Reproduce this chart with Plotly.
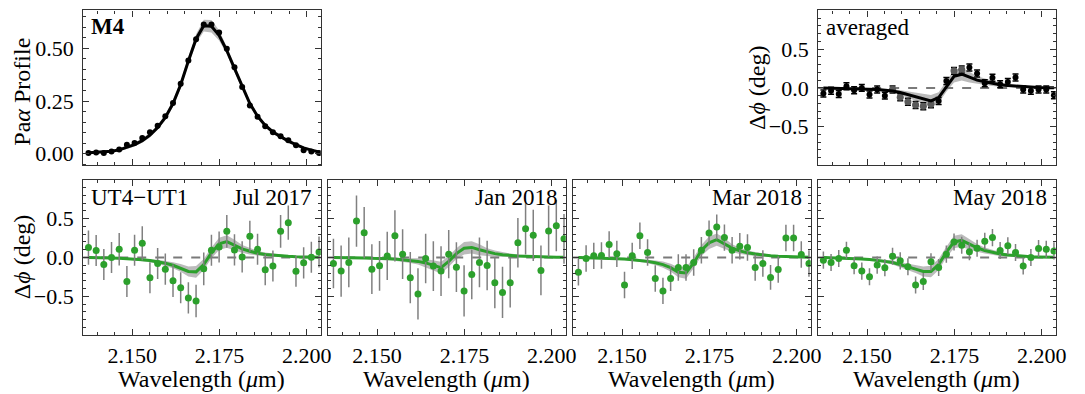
import numpy as np
import plotly.graph_objects as go

# ---------------- data ----------------
wavelength = [2.1375, 2.1397, 2.1419, 2.1441, 2.1463, 2.1485, 2.1507, 2.1529, 2.1551, 2.1573,
              2.1595, 2.1617, 2.1639, 2.1661, 2.1683, 2.1705, 2.1727, 2.1749, 2.1771, 2.1793,
              2.1815, 2.1837, 2.1859, 2.1881, 2.1903, 2.1925, 2.1947, 2.1969, 2.1991, 2.2013, 2.2035]

profile_data = [0.003, 0.006, 0.003, 0.011, 0.020, 0.043, 0.051, 0.075, 0.102, 0.133,
                0.178, 0.241, 0.332, 0.443, 0.543, 0.614, 0.614, 0.575, 0.498, 0.411,
                0.317, 0.229, 0.175, 0.130, 0.102, 0.083, 0.064, 0.040, 0.016, 0.011, 0.003]
profile_model = [0.004, 0.006, 0.008, 0.012, 0.018, 0.030, 0.043, 0.062, 0.088, 0.124,
                 0.172, 0.238, 0.328, 0.440, 0.545, 0.608, 0.605, 0.562, 0.490, 0.405,
                 0.318, 0.238, 0.178, 0.134, 0.103, 0.080, 0.060, 0.043, 0.028, 0.017, 0.008]
profile_band = [0.006, 0.006, 0.006, 0.006, 0.007, 0.008, 0.009, 0.010, 0.011, 0.012,
                0.013, 0.014, 0.016, 0.018, 0.022, 0.028, 0.030, 0.024, 0.018, 0.015,
                0.013, 0.012, 0.011, 0.010, 0.009, 0.008, 0.007, 0.007, 0.006, 0.006, 0.006]

avg_phase = [-0.073, -0.038, -0.080, 0.022, -0.030, 0.000, -0.086, -0.020, -0.100, -0.020,
             -0.120, -0.180, -0.220, -0.236, -0.210, -0.170, 0.090, 0.220, 0.237, 0.263,
             0.186, 0.060, 0.130, 0.048, 0.077, 0.134, -0.020, -0.038, -0.020, -0.020, -0.094]
avg_err = [0.045, 0.045, 0.045, 0.045, 0.045, 0.045, 0.045, 0.045, 0.045, 0.045,
           0.045, 0.045, 0.045, 0.045, 0.045, 0.045, 0.045, 0.045, 0.045, 0.045,
           0.045, 0.045, 0.045, 0.045, 0.045, 0.045, 0.045, 0.045, 0.045, 0.045, 0.045]
avg_model = [0.000, -0.002, -0.004, -0.006, -0.008, -0.010, -0.015, -0.020, -0.030, -0.040,
             -0.060, -0.085, -0.110, -0.140, -0.168, -0.125, 0.020, 0.150, 0.177, 0.140,
             0.100, 0.080, 0.055, 0.040, 0.030, 0.022, 0.015, 0.010, 0.006, 0.003, 0.001]
avg_flag_wl = [2.1573, 2.1595, 2.1617, 2.1639, 2.1661, 2.1683, 2.1749, 2.1771]
avg_flag_phase = [-0.020, -0.120, -0.180, -0.220, -0.236, -0.210, 0.220, 0.237]

jul_phase = [0.128, 0.090, -0.090, 0.000, 0.106, -0.310, 0.094, 0.183, -0.260, -0.077,
             -0.150, -0.300, -0.390, -0.520, -0.560, -0.146, 0.094, 0.136, 0.337, 0.098,
             0.008, 0.273, 0.106, -0.159, -0.110, 0.337, 0.449, -0.176, -0.069, 0.004, 0.072]
jul_err = [0.22, 0.20, 0.20, 0.20, 0.21, 0.20, 0.20, 0.22, 0.20, 0.20,
           0.20, 0.21, 0.20, 0.20, 0.21, 0.21, 0.20, 0.20, 0.21, 0.20,
           0.20, 0.20, 0.20, 0.20, 0.20, 0.21, 0.22, 0.20, 0.20, 0.20, 0.20]
jul_model = [0.000, 0.000, -0.005, -0.005, -0.010, -0.015, -0.020, -0.030, -0.040, -0.055,
             -0.075, -0.100, -0.135, -0.180, -0.185, -0.090, 0.060, 0.175, 0.205, 0.160,
             0.110, 0.080, 0.055, 0.040, 0.030, 0.020, 0.015, 0.010, 0.005, 0.003, 0.002]

jan_phase = [-0.077, -0.175, -0.064, 0.470, 0.320, -0.150, -0.107, 0.020, 0.280, 0.043,
             -0.260, -0.470, -0.013, -0.110, -0.175, 0.043, -0.124, -0.430, -0.218, -0.064,
             -0.103, -0.325, -0.450, -0.325, 0.190, 0.370, 0.286, -0.167, 0.340, 0.410, 0.240]
jan_err = [0.32, 0.33, 0.32, 0.33, 0.33, 0.32, 0.32, 0.31, 0.33, 0.32,
           0.33, 0.33, 0.32, 0.32, 0.32, 0.31, 0.32, 0.33, 0.32, 0.32,
           0.32, 0.33, 0.33, 0.32, 0.32, 0.33, 0.33, 0.32, 0.33, 0.33, 0.32]
jan_model = [0.000, 0.000, 0.000, 0.000, -0.005, -0.010, -0.010, -0.015, -0.020, -0.030,
             -0.040, -0.050, -0.070, -0.100, -0.130, -0.050, 0.050, 0.120, 0.130, 0.100,
             0.070, 0.050, 0.035, 0.025, 0.020, 0.015, 0.010, 0.008, 0.005, 0.003, 0.002]

mar_phase = [-0.190, -0.013, 0.021, 0.025, 0.167, 0.047, -0.355, 0.021, 0.280, 0.064,
             -0.270, -0.430, -0.270, -0.128, -0.128, -0.064, 0.094, 0.317, 0.393, 0.256,
             0.094, 0.145, 0.128, -0.130, -0.077, -0.256, -0.154, 0.252, 0.252, 0.038, -0.077]
mar_err = [0.17, 0.17, 0.17, 0.17, 0.17, 0.17, 0.17, 0.17, 0.17, 0.17,
           0.17, 0.17, 0.16, 0.17, 0.17, 0.17, 0.17, 0.16, 0.16, 0.17,
           0.17, 0.17, 0.17, 0.17, 0.17, 0.16, 0.17, 0.17, 0.17, 0.17, 0.17]
mar_model = [0.000, -0.002, -0.004, -0.007, -0.010, -0.015, -0.020, -0.028, -0.038, -0.050,
             -0.068, -0.092, -0.130, -0.190, -0.200, -0.070, 0.090, 0.190, 0.230, 0.180,
             0.120, 0.085, 0.060, 0.045, 0.030, 0.022, 0.015, 0.010, 0.007, 0.004, 0.002]

may_phase = [-0.034, -0.064, -0.013, 0.094, -0.107, -0.175, -0.248, -0.098, -0.132, 0.017,
             -0.043, -0.120, -0.355, -0.310, -0.056, -0.128, 0.043, 0.200, 0.158, 0.073,
             0.120, 0.210, 0.256, 0.090, 0.150, 0.065, -0.110, 0.000, 0.115, 0.107, 0.085]
may_err = [0.11, 0.11, 0.11, 0.11, 0.11, 0.11, 0.11, 0.11, 0.11, 0.11,
           0.11, 0.11, 0.11, 0.11, 0.11, 0.11, 0.11, 0.11, 0.11, 0.11,
           0.11, 0.11, 0.11, 0.11, 0.11, 0.11, 0.11, 0.11, 0.11, 0.11, 0.11]
may_model = [0.000, -0.002, -0.005, -0.008, -0.012, -0.018, -0.025, -0.035, -0.050, -0.065,
             -0.090, -0.120, -0.150, -0.180, -0.180, -0.090, 0.070, 0.200, 0.220, 0.170,
             0.125, 0.090, 0.065, 0.045, 0.032, 0.022, 0.015, 0.010, 0.006, 0.004, 0.002]

phase_band = [0.010, 0.010, 0.010, 0.010, 0.010, 0.015, 0.015, 0.015, 0.020, 0.025,
              0.030, 0.040, 0.050, 0.065, 0.075, 0.070, 0.070, 0.080, 0.080, 0.070,
              0.050, 0.040, 0.030, 0.025, 0.020, 0.015, 0.010, 0.010, 0.010, 0.010, 0.010]

panel_titles = ["Jul 2017", "Jan 2018", "Mar 2018", "May 2018"]
baseline_label = "UT4\u2212UT1"

x_range = [2.136, 2.204]
phase_range = [-1.0, 1.0]
profile_range = [-0.055, 0.68]

# ---------------- figure ----------------
# page body has an 8px margin: figure placed at (8, 8) in the 1085x394 window
OFF = 8
W, H = 1085 - OFF, 394 - OFF
FONT = "Liberation Serif"
GREEN = "#2ca02c"
BAND = "rgba(120,120,120,0.5)"
ERR = "#808080"

cols = [(84, 324), (331.5, 571.5), (579, 819), (826.5, 1066.5)]
top_row = (10.5, 165.7)
bot_row = (180.3, 336)


def PX(px):
    return (px - OFF) / W


def PY(py):
    return 1 - (py - OFF) / H


def xd(a, b):
    return [PX(a), PX(b)]


def yd(top, bottom):
    return [PY(bottom), PY(top)]


fig = go.Figure()


def band(xname, yname, model, half, color=BAND):
    wl = np.array(wavelength)
    m = np.array(model)
    h = np.array(half)
    fig.add_trace(go.Scatter(
        x=np.concatenate([wl, wl[::-1]]), y=np.concatenate([m + h, (m - h)[::-1]]),
        fill="toself", fillcolor=color, line=dict(width=0), mode="lines",
        hoverinfo="skip", showlegend=False, xaxis=xname, yaxis=yname))


def line(xname, yname, model, color, width=3):
    fig.add_trace(go.Scatter(x=wavelength, y=model, mode="lines",
                             line=dict(color=color, width=width),
                             showlegend=False, xaxis=xname, yaxis=yname))


# top-left: profile
band("x", "y", profile_model, profile_band)
line("x", "y", profile_model, "black", 3)
fig.add_trace(go.Scatter(x=wavelength, y=profile_data, mode="markers",
                         marker=dict(color="black", size=6), showlegend=False,
                         xaxis="x", yaxis="y"))

# top-right: averaged
band("x2", "y2", avg_model, phase_band)
fig.add_trace(go.Scatter(x=wavelength, y=avg_phase, mode="markers",
                         marker=dict(color="black", size=6),
                         error_y=dict(type="data", array=avg_err, color="black",
                                      thickness=1.5, width=3),
                         showlegend=False, xaxis="x2", yaxis="y2"))
fig.add_trace(go.Scatter(x=avg_flag_wl, y=avg_flag_phase, mode="markers",
                         marker=dict(color="#5a5a5a", size=7), showlegend=False,
                         xaxis="x2", yaxis="y2"))
line("x2", "y2", avg_model, "black", 3)

# bottom panels
series = [(jul_phase, jul_err, jul_model), (jan_phase, jan_err, jan_model),
          (mar_phase, mar_err, mar_model), (may_phase, may_err, may_model)]
for k, (ph, er, md) in enumerate(series):
    xn, yn = f"x{k + 3}", f"y{k + 3}"
    band(xn, yn, md, phase_band)
    line(xn, yn, md, GREEN, 3)
    fig.add_trace(go.Scatter(x=wavelength, y=ph, mode="markers",
                             marker=dict(color=GREEN, size=7),
                             error_y=dict(type="data", array=er, color=ERR,
                                          thickness=1.5, width=0),
                             showlegend=False, xaxis=xn, yaxis=yn))

TICK_FONT = dict(family=FONT, size=22, color="black")
axis_common = dict(showline=True, linecolor="#333333", linewidth=1.2, mirror="allticks",
                   ticks="inside", ticklen=6, tickwidth=1, tickcolor="#333333",
                   showgrid=False, zeroline=False, tickfont=TICK_FONT)

x_common = dict(axis_common, range=x_range, tickvals=[2.150, 2.175, 2.200],
                tickformat=".3f",
                minor=dict(dtick=0.005, tick0=2.150, ticks="inside", ticklen=3,
                           tickcolor="#333333"))
phase_common = dict(axis_common, range=phase_range, tickvals=[-0.5, 0.0, 0.5],
                    tickformat=".1f", ticklabelstandoff=4,
                    minor=dict(dtick=0.1, tick0=0, ticks="inside", ticklen=3,
                               tickcolor="#333333"))

layout = dict(width=W, height=H, margin=dict(l=0, r=0, t=0, b=0),
              paper_bgcolor="white", plot_bgcolor="white", showlegend=False,
              font=dict(family=FONT, size=20, color="black"))

layout["xaxis"] = dict(x_common, domain=xd(*cols[0]), anchor="y", showticklabels=False)
layout["yaxis"] = dict(axis_common, domain=yd(*top_row), anchor="x", range=profile_range,
                       tickvals=[0.0, 0.25, 0.5], tickformat=".2f", ticklabelstandoff=4,
                       minor=dict(dtick=0.05, tick0=0, ticks="inside", ticklen=3,
                                  tickcolor="#333333"))
layout["xaxis2"] = dict(x_common, domain=xd(*cols[3]), anchor="y2", showticklabels=False)
layout["yaxis2"] = dict(phase_common, domain=yd(*top_row), anchor="x2")
for k in range(4):
    layout[f"xaxis{k + 3}"] = dict(x_common, domain=xd(*cols[k]), anchor=f"y{k + 3}")
    layout[f"yaxis{k + 3}"] = dict(phase_common, domain=yd(*bot_row), anchor=f"x{k + 3}",
                                   showticklabels=(k == 0))

shapes = []
for k in ["2", "3", "4", "5", "6"]:
    shapes.append(dict(type="line", xref=f"x{k} domain", yref=f"y{k}", x0=0, x1=1,
                       y0=0, y1=0, line=dict(color="#7a7a7a", width=2, dash="dash"),
                       layer="below"))
layout["shapes"] = shapes


def ann(text, px, py, xanchor="left", yanchor="middle", angle=0, size=23):
    return dict(text=text, x=PX(px), y=PY(py), xref="paper", yref="paper",
                xanchor=xanchor, yanchor=yanchor, showarrow=False, textangle=angle,
                font=dict(family=FONT, size=size, color="black"))


anns = [
    ann("<b>M4</b>", 90, 27),
    ann("averaged", 832, 28),
    ann(baseline_label, 90, 198),
    ann("Pa<i>\u03b1</i> Profile", 22, 92, "center", "middle", -90, 24),
    ann("\u0394<i>\u03d5</i> (deg)", 22, 257, "center", "middle", -90, 24),
    ann("\u0394<i>\u03d5</i> (deg)", 765, 88, "center", "middle", -90, 24),
]
for k, t in enumerate(panel_titles):
    anns.append(ann(t, cols[k][1] - 7, 198, "right"))
    anns.append(ann("Wavelength (<i>\u03bc</i>m)", (cols[k][0] + cols[k][1]) / 2, 380,
                    "center", "middle", 0, 24))
layout["annotations"] = anns

fig.update_layout(**layout)
fig.write_html("out.html")
